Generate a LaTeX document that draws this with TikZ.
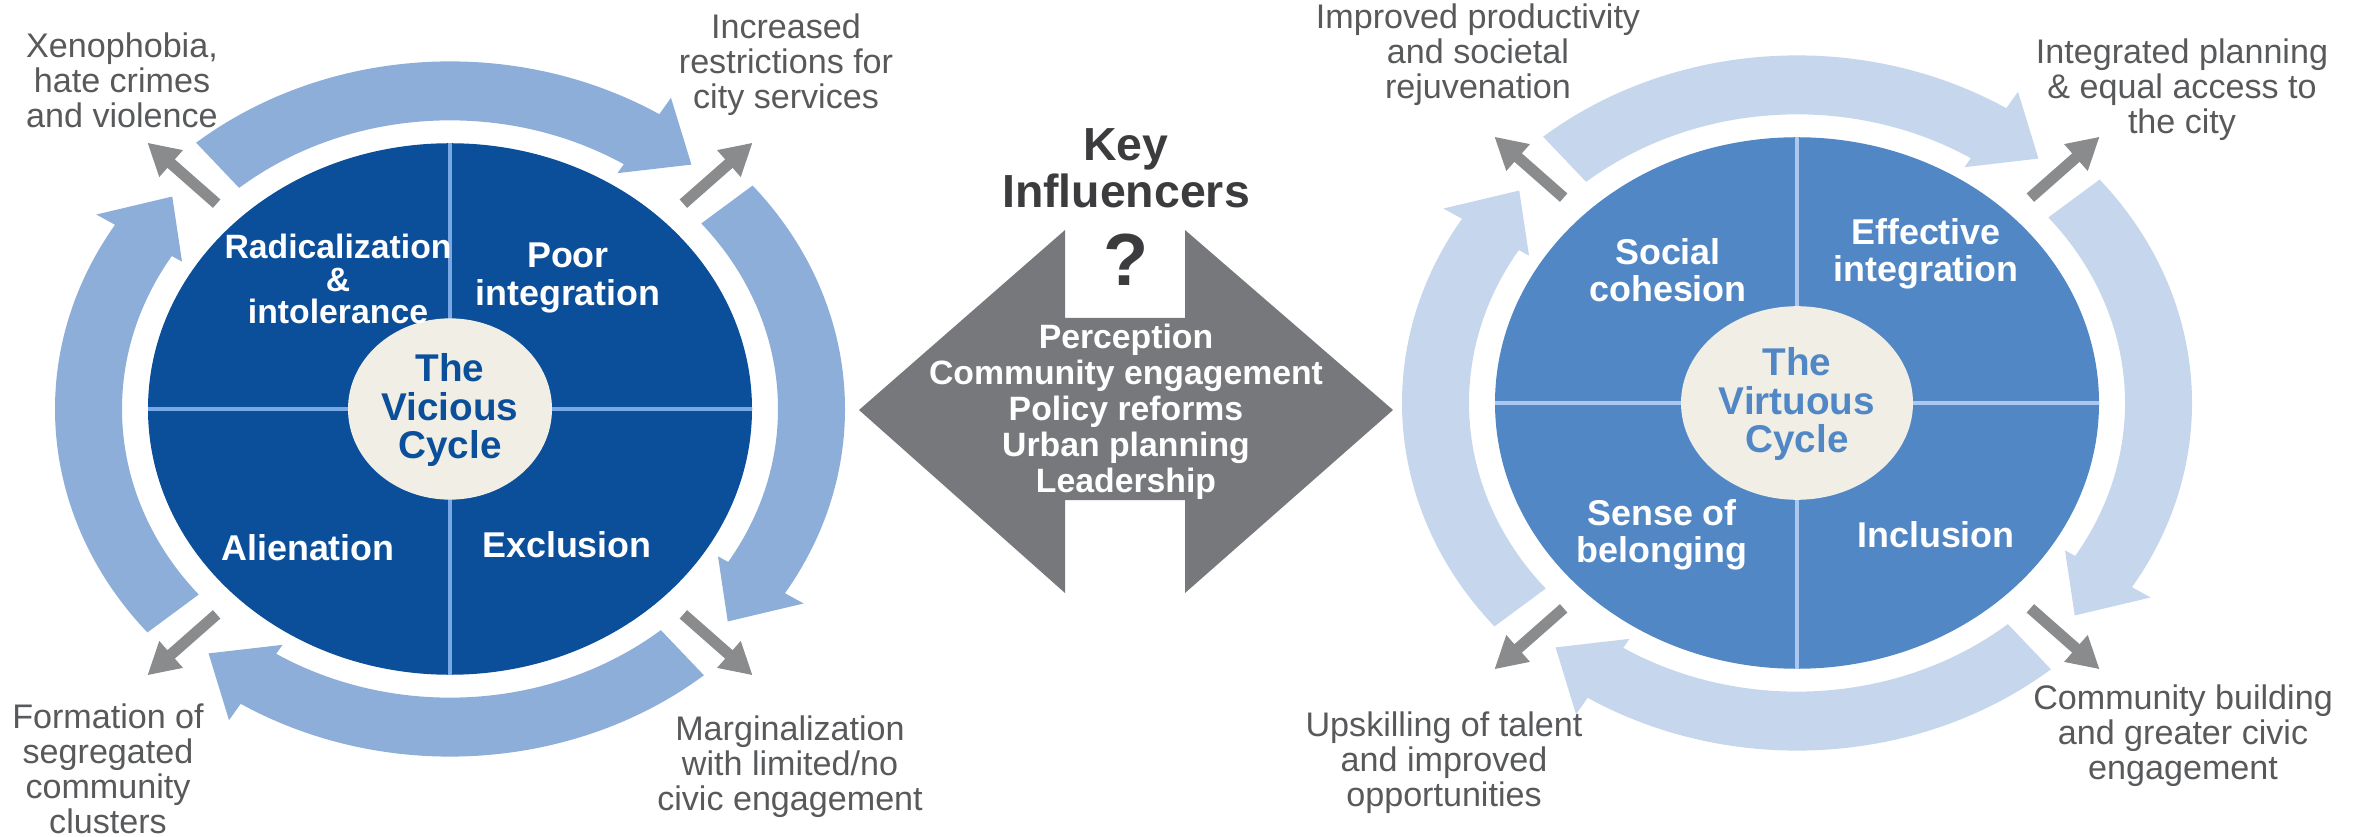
\documentclass[tikz,border=0pt]{standalone}
\usepackage{fontspec}
\setmainfont{Liberation Sans}
\usetikzlibrary{arrows.meta}
\definecolor{vicring}{RGB}{142,174,218}
\definecolor{virring}{RGB}{197,214,237}
\definecolor{vicdisc}{RGB}{11,78,154}
\definecolor{virdisc}{RGB}{82,135,198}
\definecolor{vicline}{RGB}{120,168,230}
\definecolor{virline}{RGB}{172,200,238}
\definecolor{cream}{RGB}{240,238,229}
\definecolor{labelgray}{RGB}{88,89,91}
\definecolor{keygray}{RGB}{119,120,123}
\definecolor{keytext}{RGB}{60,60,62}
\definecolor{spokegray}{RGB}{138,139,141}
\tikzset{>=latex}
\tikzset{
    outlabel/.style={text=labelgray,align=center,font=\fontsize{9.7}{10}\selectfont},
    inlabel/.style={text=white,align=center,font=\fontsize{10.2}{10.6}\selectfont\bfseries},
    hublabel/.style={align=center,font=\fontsize{11}{11}\selectfont\bfseries},
    spoke/.style={draw=spokegray,line width=3.2pt,-{Triangle[length=9pt,width=9.5pt]}}
}
\newcommand{\rin}{328}
\newcommand{\rout}{395}
\newcommand{\ringarrow}[3][vicring]{
    \fill[#1] (#2:\rout) arc[start angle=#2,end angle=#3+9,radius=\rout]
        -- ({#3+9}:{\rout+22}) -- (#3:368) -- ({#3+9}:{\rin-12}) -- ({#3+9}:\rin)
        arc[start angle=#3+9,end angle=#2,radius=\rin] -- cycle;
}
\newcommand{\spoke}[2]{
    \coordinate (#1a) at (#2:330);
    \coordinate (#1b) at (#2:428);
    \draw[spoke] (#1a) -- (#1b);
}

\begin{document}
\begin{tikzpicture}[x=0.01cm,y=0.01cm]
            \useasboundingbox (0,0) rectangle (2361,836);
            \begin{scope}[shift={(450,427)},yscale=0.88]
                \ringarrow{130}{49}
                \ringarrow{40}{-41}
                \ringarrow{-50}{-131}
                \ringarrow{220}{139}
                \fill[vicdisc] (0,0) circle[radius=302];
                \draw[vicline,line width=0.9pt] (0,302) -- (0,-302) (-302,0) -- (302,0);
                \fill[cream] (0,0) circle[x radius=102,y radius=103];
                \spoke{vtl}{135}
                \spoke{vtr}{45}
                \spoke{vbr}{-45}
                \spoke{vbl}{-135}
            \end{scope}
            \begin{scope}[shift={(1797,433)},yscale=0.88]
                \ringarrow[virring]{130}{49}
                \ringarrow[virring]{40}{-41}
                \ringarrow[virring]{-50}{-131}
                \ringarrow[virring]{220}{139}
                \fill[virdisc] (0,0) circle[radius=302];
                \draw[virline,line width=0.9pt] (0,302) -- (0,-302) (-302,0) -- (302,0);
                \fill[cream] (0,0) circle[x radius=116,y radius=110];
                \spoke{rtl}{135}
                \spoke{rtr}{45}
                \spoke{rbr}{-45}
                \spoke{rbl}{-135}
            \end{scope}
            \fill[keygray] (859,426) -- (1065,606) -- (1065,518) -- (1185,518) -- (1185,606)
                -- (1393,426) -- (1185,243) -- (1185,336) -- (1065,336) -- (1065,243) -- cycle;
            \node[hublabel,text=vicdisc] (vichub) at (450,426) {The\\Vicious\\Cycle};
            \node[hublabel,text=virdisc] (virhub) at (1797,432) {The\\Virtuous\\Cycle};
            \node[inlabel,font=\fontsize{9.6}{9.3}\selectfont\bfseries] (radical) at (338,557) {Radicalization\\\&\\intolerance};
            \node[inlabel] (poor) at (568,558) {Poor\\integration};
            \node[inlabel] (alien) at (308,288) {Alienation};
            \node[inlabel] (exclus) at (567,291) {Exclusion};
            \node[inlabel] (social) at (1668,566) {Social\\cohesion};
            \node[inlabel] (effect) at (1926,582) {Effective\\integration};
            \node[inlabel] (belong) at (1662,301) {Sense of\\belonging};
            \node[inlabel] (inclus) at (1936,301) {Inclusion};
            \node[outlabel] (xeno) at (122,756) {Xenophobia,\\hate crimes\\and violence};
            \node[outlabel] (restrict) at (786,771) {Increased\\restrictions for\\city services};
            \node[outlabel] (segreg) at (108,67) {Formation of\\segregated\\community\\clusters};
            \node[outlabel] (margin) at (790,69) {Marginalization\\with limited/no\\civic engagement};
            \node[outlabel] (product) at (1478,781) {Improved productivity\\and societal\\rejuvenation};
            \node[outlabel] (access) at (2182,746) {Integrated planning\\\& equal access to\\the city};
            \node[outlabel] (upskill) at (1444,73) {Upskilling of talent\\and improved\\opportunities};
            \node[outlabel] (civic) at (2183,100) {Community building\\and greater civic\\engagement};
            \node[align=center,text=keytext,font=\fontsize{13.2}{11.2}\selectfont\bfseries] (key) at (1126,668) {Key\\Influencers};
            \node[text=keytext,font=\fontsize{21}{21}\selectfont\bfseries] (quest) at (1126,576) {?};
            \node[inlabel,font=\fontsize{9.6}{10.2}\selectfont\bfseries] (levers) at (1126,424) {Perception\\Community engagement\\Policy reforms\\Urban planning\\Leadership};
        \end{tikzpicture}
\end{document}
